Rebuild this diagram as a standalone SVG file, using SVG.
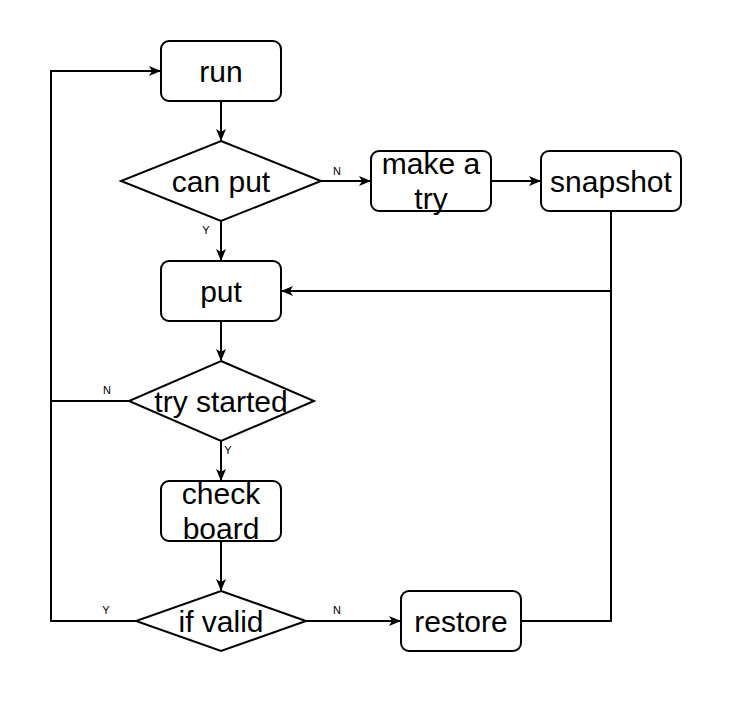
<svg xmlns="http://www.w3.org/2000/svg" width="740" height="704" viewBox="0 0 740 704">
<style>
.box{fill:#fff;stroke:#000;stroke-width:2}
.t{font-family:"Liberation Sans",Arial,sans-serif;font-size:30px;fill:#000;text-anchor:middle}
.l{font-family:"Liberation Sans",Arial,sans-serif;font-size:11px;fill:#000;text-anchor:middle}
.e{fill:none;stroke:#000;stroke-width:2}
</style>
<defs>
<marker id="a" viewBox="0 0 12 10" refX="11" refY="5" markerWidth="12" markerHeight="10" markerUnits="userSpaceOnUse" orient="auto">
<path d="M0,0 L12,5 L0,10 L3,5 Z" fill="#000"/>
</marker>
</defs>
<rect width="740" height="704" fill="#fff"/>
<g id="connectors">
<line class="e" x1="221" y1="101" x2="221" y2="140" marker-end="url(#a)"/>
<line class="e" x1="321" y1="181" x2="370" y2="181" marker-end="url(#a)"/>
<line class="e" x1="491" y1="181" x2="540" y2="181" marker-end="url(#a)"/>
<polyline class="e" points="611,211 611,291 282,291" marker-end="url(#a)"/>
<line class="e" x1="221" y1="221" x2="221" y2="260" marker-end="url(#a)"/>
<line class="e" x1="221" y1="321" x2="221" y2="360" marker-end="url(#a)"/>
<polyline class="e" points="129,401 51,401 51,71 160,71" marker-end="url(#a)"/>
<line class="e" x1="221" y1="441" x2="221" y2="480" marker-end="url(#a)"/>
<line class="e" x1="221" y1="541" x2="221" y2="590" marker-end="url(#a)"/>
<polyline class="e" points="136,621 51,621 51,401"/>
<line class="e" x1="306" y1="621" x2="400" y2="621" marker-end="url(#a)"/>
<polyline class="e" points="521,621 611,621 611,291"/>
<text class="l" x="337" y="175">N</text>
<text class="l" x="206" y="234">Y</text>
<text class="l" x="107" y="394">N</text>
<text class="l" x="228" y="454">Y</text>
<text class="l" x="106" y="614">Y</text>
<text class="l" x="337" y="614">N</text>
</g>
<g id="run"><rect class="box" x="161" y="41" width="120" height="60" rx="8"/><text class="t" x="221" y="82">run</text></g>
<g id="canput"><polygon class="box" points="221,141 321,181 221,221 121,181"/><text class="t" x="221" y="192">can put</text></g>
<g id="makeatry"><rect class="box" x="371" y="151" width="120" height="60" rx="8"/><text class="t" x="431" y="174">make a</text><text class="t" x="431" y="209">try</text></g>
<g id="snapshot"><rect class="box" x="541" y="151" width="140" height="60" rx="8"/><text class="t" x="611" y="192">snapshot</text></g>
<g id="put"><rect class="box" x="161" y="261" width="120" height="60" rx="8"/><text class="t" x="221" y="302">put</text></g>
<g id="trystarted"><polygon class="box" points="221,361 314,401 221,441 129,401"/><text class="t" x="221" y="412">try started</text></g>
<g id="checkboard"><rect class="box" x="161" y="481" width="120" height="60" rx="8"/><text class="t" x="221" y="504">check</text><text class="t" x="221" y="539">board</text></g>
<g id="ifvalid"><polygon class="box" points="221,591 306,621 221,651 136,621"/><text class="t" x="221" y="632">if valid</text></g>
<g id="restore"><rect class="box" x="401" y="591" width="120" height="60" rx="8"/><text class="t" x="461" y="632">restore</text></g>
</svg>
